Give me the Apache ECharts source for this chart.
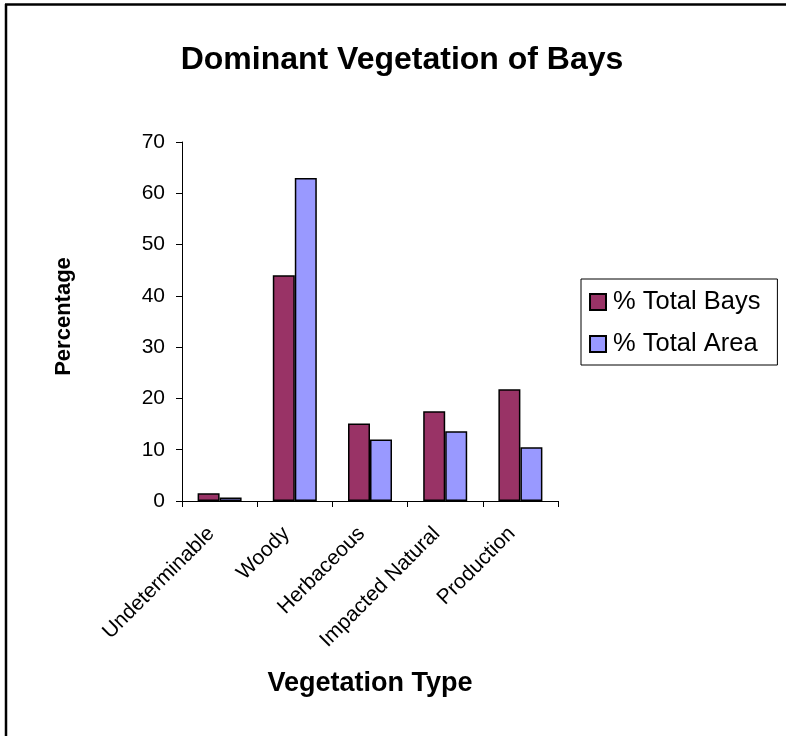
<!DOCTYPE html>
<html>
<head>
<meta charset="utf-8">
<script src="https://cdn.jsdelivr.net/npm/echarts@6/dist/echarts.min.js"></script>
<style>
html,body{margin:0;padding:0;background:#fff;}
#chart{width:786px;height:736px;}
</style>
</head>
<body>
<div id="chart"></div>
<script>
const categories = ['Undeterminable', 'Woody', 'Herbaceous', 'Impacted Natural', 'Production'];
const totalBays = [1.5, 44, 15.1, 17.5, 21.8];
const totalArea = [0.7, 63, 12, 13.6, 10.5];
const seriesNames = ['% Total Bays', '% Total Area'];
const yTicks = { min: 0, max: 70, interval: 10 };

const FONT = '"Liberation Sans", Arial, sans-serif';
const chart = echarts.init(document.getElementById('chart'), null, { renderer: 'canvas' });
chart.setOption({
  backgroundColor: '#ffffff',
  animation: false,
  title: {
    text: 'Dominant Vegetation of Bays',
    left: 397, top: 39, textAlign: 'center',
    textStyle: { fontFamily: FONT, fontSize: 32, fontWeight: 'bold', color: '#000' }
  },
  graphic: [
    { type: 'line', shape: { x1: 5, y1: 4.5, x2: 786, y2: 4.5 }, style: { stroke: '#000', lineWidth: 2.5 } },
    { type: 'line', shape: { x1: 6, y1: 4, x2: 6, y2: 736 }, style: { stroke: '#000', lineWidth: 2.5 } }
  ],
  legend: {
    orient: 'vertical',
    left: 581, top: 279,
    padding: [10, 17, 8, 8],
    borderColor: '#000', borderWidth: 1,
    itemWidth: 16, itemHeight: 16, itemGap: 16,
    icon: 'rect',
    textStyle: { fontFamily: FONT, fontSize: 25.5, color: '#000', padding: [0, 0, 0, 2] },
    data: seriesNames
  },
  grid: { left: 182, right: 228, top: 142, bottom: 235, containLabel: false },
  xAxis: {
    type: 'category',
    data: categories,
    name: 'Vegetation Type',
    nameLocation: 'middle',
    nameGap: 169,
    nameTextStyle: { fontFamily: FONT, fontSize: 27, fontWeight: 'bold', color: '#000' },
    axisLine: { lineStyle: { color: '#000', width: 1 } },
    axisTick: { show: true, length: 6, lineStyle: { color: '#000' } },
    axisLabel: { rotate: 45, margin: 21, fontFamily: FONT, fontSize: 21, color: '#000', interval: 0, padding: [0, 12, 0, 0] }
  },
  yAxis: {
    type: 'value',
    min: yTicks.min, max: yTicks.max, interval: yTicks.interval,
    name: 'Percentage',
    nameLocation: 'middle',
    nameGap: 107,
    nameTextStyle: { fontFamily: FONT, fontSize: 22, fontWeight: 'bold', color: '#000', padding: [0, 0, 0, 10] },
    axisLine: { show: true, lineStyle: { color: '#000', width: 1 } },
    axisTick: { show: true, length: 6, lineStyle: { color: '#000' } },
    axisLabel: { margin: 17, fontFamily: FONT, fontSize: 21, color: '#000' },
    splitLine: { show: false }
  },
  series: [
    {
      name: seriesNames[0], type: 'bar', data: totalBays,
      barWidth: 22, barGap: '0%',
      itemStyle: { color: '#993366', borderColor: '#000', borderWidth: 1.5 }
    },
    {
      name: seriesNames[1], type: 'bar', data: totalArea,
      barWidth: 22, barGap: '0%',
      itemStyle: { color: '#9999FF', borderColor: '#000', borderWidth: 1.5 }
    }
  ]
});
</script>
</body>
</html>
